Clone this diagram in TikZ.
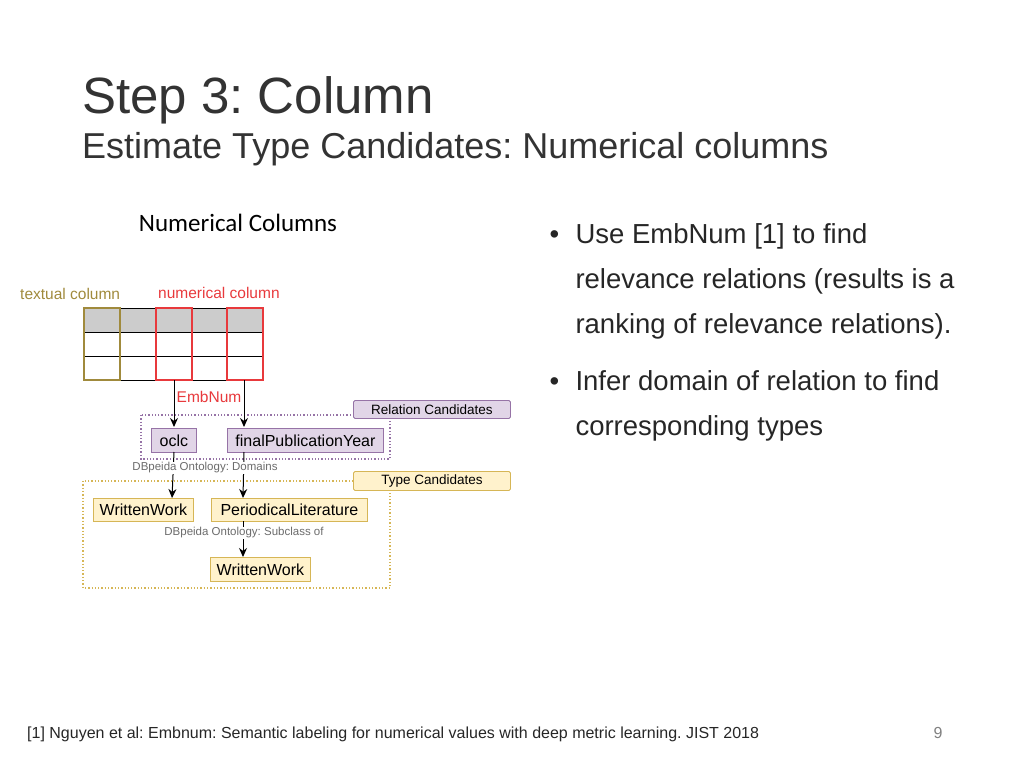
\documentclass[tikz,border=0pt]{standalone}
\usepackage{fontspec}
\setmainfont{Liberation Sans}
\newfontfamily\calib{Carlito}
\usetikzlibrary{arrows.meta}
\definecolor{olivec}{HTML}{A08A3C}
\definecolor{redc}{HTML}{E8393C}
\definecolor{purpf}{HTML}{E1D5E7}
\definecolor{purpd}{HTML}{9673A6}
\definecolor{yelf}{HTML}{FFF2CC}
\definecolor{yeld}{HTML}{D6B656}
\tikzset{
 x=1pt,y=-1pt,
 pbox/.style={draw=purpd,fill=purpf,line width=0.9pt,inner sep=0pt,font=\fontsize{16}{16}\selectfont},
 ybox/.style={draw=yeld,fill=yelf,line width=0.9pt,inner sep=0pt,font=\fontsize{16}{16}\selectfont},
 tag/.style={rounded corners=1.5pt,font=\fontsize{13.5}{13.5}\selectfont},
 arr/.style={-{Stealth[length=9pt,width=8pt]},line width=1pt},
 small/.style={text=gray!85!black,font=\fontsize{11.5}{11.5}\selectfont},
 bullet/.style={anchor=base west,font=\fontsize{27.5}{27.5}\selectfont,text=black!85}
}
\begin{document}
\frenchspacing
\begin{tikzpicture}
\useasboundingbox (0,0) rectangle (1024,768);
% titles
\node[anchor=base west,inner sep=0pt,font=\fontsize{51}{51}\selectfont,text=black!80] (t1) at (82,113) {Step 3: Column};
\node[anchor=base west,inner sep=0pt,font=\fontsize{36}{36}\selectfont,text=black!80] (t2) at (82,158) {Estimate Type Candidates: Numerical columns};
\node[anchor=base,inner sep=0pt,font=\calib\fontsize{25}{25}\selectfont] (nc) at (238,231) {Numerical Columns};
% bullets
\node[bullet] (b1) at (546,243) {\textbullet};
\node[bullet] (l1) at (572,243) {Use EmbNum [1] to find};
\node[bullet] (l2) at (572,288) {relevance relations (results is a};
\node[bullet] (l3) at (572,333) {ranking of relevance relations).};
\node[bullet] (b2) at (546,390) {\textbullet};
\node[bullet] (l4) at (572,390) {Infer domain of relation to find};
\node[bullet] (l5) at (572,435) {corresponding types};
% table
\fill[gray!40] (84,308) rectangle (263,332);
\draw[line width=1pt] (84,308) -- (263,308) (84,332) -- (263,332) (84,356) -- (263,356) (84,380) -- (263,380);
\foreach \x in {120,156,192,227,263} \draw[line width=1pt] (\x,308) -- (\x,380);
\draw[olivec,line width=2pt] (84,308) rectangle (120,380);
\draw[redc,line width=2pt] (156,308) rectangle (192,380);
\draw[redc,line width=2pt] (227,308) rectangle (263,380);
\node[anchor=base west,inner sep=0pt,text=olivec,font=\fontsize{15.5}{15.5}\selectfont] (tc) at (20,299) {textual column};
\node[anchor=base west,inner sep=0pt,text=redc,font=\fontsize{15.5}{15.5}\selectfont] (ncl) at (158,298) {numerical column};
% relation box
\draw[purpd,line width=1.3pt,dotted] (141,415) rectangle (390,459);
\node[pbox,tag,minimum width=157pt,minimum height=18pt,anchor=north west] (rc) at (353,400) {Relation Candidates};
\node[pbox,minimum width=45pt,minimum height=24pt,anchor=north west] (oclc) at (151,428) {oclc};
\node[pbox,minimum width=156pt,minimum height=24pt,anchor=north west] (fpy) at (227,428) {finalPublicationYear};
\coordinate (c1) at (174,380);
\coordinate (c2) at (244,380);
\draw[arr] (c1) -- (174,427);
\draw[arr] (c2) -- (244,427);
\node[inner sep=1pt,fill=white,text=redc,font=\fontsize{15.5}{15.5}\selectfont] (emb) at (209,397) {EmbNum};
% type box
\draw[yeld,line width=1.3pt,dotted] (83,481) rectangle (390,588);
\node[ybox,tag,minimum width=157pt,minimum height=19pt,anchor=north west] (tcand) at (353,471) {Type Candidates};
\node[ybox,minimum width=100pt,minimum height=23pt,anchor=north west] (ww1) at (93,498) {WrittenWork};
\node[ybox,minimum width=156pt,minimum height=23pt,anchor=north west] (pl) at (211,498) {PeriodicalLiterature};
\node[ybox,minimum width=100pt,minimum height=24pt,anchor=north west] (ww2) at (210,557) {WrittenWork};
\draw[arr] (174,452) -- (172,498);
\draw[arr] (244,452) -- (243,498);
\node[small,fill=white,inner sep=1pt] (dom) at (205,468) {DBpeida Ontology: Domains};
\draw[arr] (243,521) -- (243,557);
\node[small,fill=white,inner sep=1pt] (sub) at (244,533) {DBpeida Ontology: Subclass of};
% footer
\node[anchor=base west,inner sep=0pt,font=\fontsize{16}{16}\selectfont,text=black!85] (fn) at (27,738) {[1] Nguyen et al: Embnum: Semantic labeling for numerical values with deep metric learning. JIST 2018};
\node[anchor=base,inner sep=0pt,font=\fontsize{16}{16}\selectfont,text=gray] (pg) at (938,738) {9};
\end{tikzpicture}
\end{document}
